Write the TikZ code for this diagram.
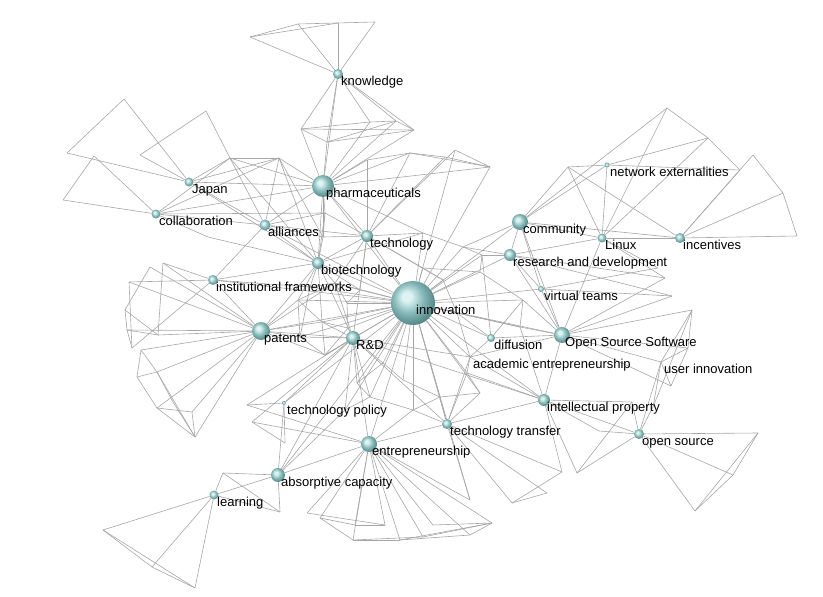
\documentclass[tikz,border=0pt]{standalone}
\usepackage{fontspec}
\setmainfont{Liberation Sans}
\usetikzlibrary{backgrounds}
\definecolor{sphhi}{RGB}{222,244,244}
\definecolor{sphmid}{RGB}{134,184,184}
\definecolor{sphdk}{RGB}{78,128,130}
\definecolor{edgecol}{RGB}{166,166,166}
\pgfdeclareradialshading{myball}{\pgfpoint{-8bp}{8bp}}{color(0bp)=(sphhi); color(5bp)=(sphhi); color(17bp)=(sphmid); color(30bp)=(sphdk); color(50bp)=(sphdk)}
\tikzset{
  sph/.style={circle, inner sep=0pt, shading=myball, draw=none},
  lab/.style={anchor=base west, inner sep=0pt, text=black, font=\fontsize{13}{15}\selectfont},
  edge/.style={draw=edgecol, line width=0.6pt}
}
\newcommand\hub[5]{%
  \node[sph, minimum size=#4pt] (#1) at (#2,#3) {};
  \node[lab] (#1-l) at (#2+3,#3+11) {#5};}
\newcommand\phub[4]{%
  \coordinate (#1) at (#2,#3);
  \node[lab] (#1-l) at (#2+3,#3+11) {#4};}
\begin{document}
\begin{tikzpicture}[x=1pt,y=-1pt]
\useasboundingbox (0,0) rectangle (823,597);
% hubs
\hub{inno}{413}{303}{44}{innovation}
\hub{pharm}{323}{186}{22}{pharmaceuticals}
\hub{know}{338}{74}{10}{knowledge}
\hub{japan}{189}{182}{9}{Japan}
\hub{collab}{156}{214}{9}{collaboration}
\hub{alli}{265}{225}{11}{alliances}
\hub{tech}{367}{236}{12}{technology}
\hub{biot}{318}{263}{12}{biotechnology}
\hub{inst}{213}{280}{10}{institutional frameworks}
\hub{pat}{261}{331}{18}{patents}
\hub{rd}{353}{338}{14}{R\&D}
\hub{tpol}{284}{403}{4}{technology policy}
\hub{entr}{369}{444}{16}{entrepreneurship}
\hub{absc}{278}{475}{14}{absorptive capacity}
\hub{learn}{214}{495}{9}{learning}
\hub{comm}{520}{222}{16}{community}
\hub{linux}{602}{238}{9}{Linux}
\hub{netx}{607}{165}{5}{network externalities}
\hub{incen}{680}{238}{10}{incentives}
\hub{rnd}{510}{255}{12}{research and development}
\hub{virt}{541}{289}{6}{virtual teams}
\hub{diff}{491}{338}{8}{diffusion}
\hub{oss}{562}{335}{16}{Open Source Software}
\phub{acad}{470}{357}{academic entrepreneurship}
\phub{useri}{661}{362}{user innovation}
\hub{ip}{544}{400}{12}{intellectual property}
\hub{ttr}{447}{424}{10}{technology transfer}
\hub{osrc}{639}{434}{10}{open source}
% corner points
\foreach \n/\x/\y in {k1/250/37,k2/298/24,k3/338/23,k4/375/22,k5/301/129,k6/327/142,k7/370/122,k8/396/121,k9/414/130,
 j1/124/99,j2/67/153,j3/206/111,j4/140/155,j5/94/156,j6/63/200,h1/230/158,h2/279/158,h3/208/237,
 t1/367/160,t2/410/153,t3/455/150,t4/490/167,t5/445/157,t6/325/213,t7/323/237,
 i1/129/282,i2/150/267,i3/163/263,i4/125/310,i5/127/330,i6/132/348,i7/158/335,
 p1/141/350,p2/137/377,p3/157/372,p4/157/408,p5/192/412,p6/195/437,p7/173/402,
 m1/298/300,m2/300/337,m3/325/355,m4/335/283,m5/347/303,m6/322/322,m7/310/287,m8/360/290,m9/348/328,
 r1/423/233,r2/423/268,r3/463/247,r4/482/255,r5/443/280,r6/457/313,r7/520/327,r8/523/300,r9/480/272,
 s1/357/383,s2/370/397,s3/413/410,s4/403/380,s5/440/397,s6/467/373,s7/480/393,s8/383/363,s9/345/410,
 q1/247/405,q2/252/422,q3/285/443,
 a1/223/473,a2/280/512,a3/103/530,a4/152/567,a5/195/588,
 e1/307/513,e2/320/518,e3/353/540,e4/355/525,e5/385/525,e6/400/540,e7/423/537,e8/470/535,e9/492/523,e10/470/500,e11/433/525,
 f1/512/503,f2/562/472,f3/547/493,
 g1/577/473,g2/632/402,g3/599/431,
 o1/758/433,o2/733/475,o3/695/511,
 u1/692/310,u2/688/348,u3/671/386,u4/653/407,
 v1/672/296,v2/665/278,v3/658/268,
 n1/568/167,n2/667/108,n3/708/138,n4/740/170,n5/753/155,n6/783/193,n7/797/236}
 {\coordinate (\n) at (\x,\y);}
\begin{scope}[on background layer]
\foreach \a/\b in {know/k1,know/k2,know/k3,know/k4,k1/k2,k2/k4,k1/k3,know/k5,know/k6,know/k7,know/k8,know/k9,
 k5/k7,k5/k9,k6/k8,k6/k9,k7/k8,k5/k6,pharm/k5,pharm/k6,pharm/k7,pharm/k8,pharm/k9,pharm/know,k8/k9,
 japan/j1,japan/j2,j1/j2,japan/j4,j4/j3,j3/h1,collab/j5,collab/j6,j5/j6,collab/h1,collab/h2,japan/h1,japan/h2,
 collab/pharm,japan/pharm,collab/alli,japan/alli,h1/alli,h2/alli,h1/pharm,h2/pharm,collab/h3,h3/biot,h1/h2,
 h1/biot,h2/biot,collab/t6,japan/biot,h2/t7,
 alli/pharm,alli/biot,alli/tech,alli/t6,alli/inno,alli/inst,alli/t7,
 pharm/tech,pharm/biot,pharm/inno,pharm/t1,pharm/t2,pharm/t4,pharm/t6,pharm/t7,pharm/r1,
 tech/t1,tech/t2,tech/t3,tech/t5,t1/t2,t2/t5,t3/t4,t5/t4,t2/t4,tech/biot,tech/inno,tech/r1,tech/r2,tech/m4,
 tech/t6,tech/t7,tech/rd,t6/t7,tech/m8,tech/r5,
 biot/inno,biot/t6,biot/t7,biot/m4,biot/m7,biot/m1,biot/rd,biot/pat,biot/inst,biot/r1,biot/m8,biot/m6,
 inst/i1,inst/i3,inst/i6,inst/pat,inst/inno,inst/m7,
 pat/i1,pat/i2,pat/i3,pat/i5,pat/i7,pat/p1,pat/p3,pat/p5,pat/p6,pat/p4,pat/inno,pat/rd,pat/m1,pat/m2,pat/m4,pat/m3,pat/m6,
 i2/i4,i3/i7,i1/i6,i4/i7,i5/i7,i4/i5,i5/i6,p1/p2,p2/p4,p2/p3,p3/p6,p4/p5,p4/p6,p5/p6,p3/p7,p7/p6,p1/p3,
 m1/m2,m1/m4,m2/m3,m3/m9,m4/m5,m5/m9,m6/m1,m6/m3,m7/m4,m7/m2,m8/m5,m4/m8,m6/m9,
 inno/m1,inno/m2,inno/m3,inno/m4,inno/m5,inno/m6,inno/m7,inno/m8,inno/m9,rd/m3,rd/m2,rd/m6,rd/m9,rd/m4,
 inno/r1,inno/r2,inno/r3,inno/r4,inno/r5,inno/r6,inno/r7,inno/r8,inno/r9,r1/r3,r2/r5,r3/r4,r4/r9,r5/r6,r6/r7,
 r8/r7,r9/r8,r2/r9,inno/comm,inno/rnd,inno/virt,inno/diff,inno/oss,inno/acad,inno/ip,inno/ttr,inno/t4,inno/t3,
 inno/s1,inno/s2,inno/s3,inno/s4,inno/s5,inno/s6,inno/s7,inno/s8,inno/s9,s1/s2,s2/s3,s4/s5,s3/s5,s5/s7,s6/s7,
 s8/s4,s1/s8,s9/s2,inno/entr,inno/absc,inno/tpol,inno/rd,inno/e10,
 rd/tpol,rd/absc,rd/entr,rd/ttr,rd/ip,rd/q1,rd/q2,rd/s1,rd/s9,rd/acad,rd/s2,rd/s8,
 tpol/q1,tpol/q3,tpol/absc,q2/q3,q2/entr,q1/entr,
 absc/learn,absc/a1,absc/a2,absc/entr,absc/s9,learn/a1,learn/a2,a1/a2,learn/a3,learn/a4,learn/a5,a3/a4,a3/a5,a4/a5,
 entr/e1,entr/e2,entr/e3,entr/e4,entr/e5,entr/e6,entr/e7,entr/e8,entr/e9,entr/e10,entr/e11,
 e1/e5,e2/e3,e2/e4,e4/e5,e3/e7,e6/e9,e7/e9,e11/e9,e8/e9,e6/e8,e3/e6,entr/ttr,entr/s3,
 ttr/ip,ttr/e10,ttr/f1,ttr/f2,ttr/f3,f1/f2,f1/f3,ttr/acad,ttr/s3,ttr/s5,ttr/s7,ttr/s6,
 ip/acad,ip/oss,ip/osrc,ip/g1,ip/g2,ip/g3,g1/g2,g1/osrc,g3/osrc,ip/f2,ip/s6,ip/r7,
 osrc/o1,osrc/o2,osrc/o3,o1/o2,o2/o3,o1/o3,osrc/g2,osrc/u4,osrc/useri,
 useri/u1,useri/u2,useri/u3,useri/u4,u1/u4,u2/u3,u1/u2,oss/u1,oss/u2,oss/useri,oss/u3,
 oss/virt,oss/rnd,oss/comm,oss/v1,oss/v2,oss/diff,oss/acad,oss/r7,oss/r8,
 virt/rnd,virt/v3,virt/comm,virt/v1,
 rnd/comm,rnd/linux,rnd/v1,rnd/v2,rnd/r3,rnd/r4,
 comm/linux,comm/netx,comm/n1,comm/n2,comm/incen,comm/r3,
 linux/n1,linux/netx,linux/n2,linux/incen,linux/n3,linux/v2,linux/v3,linux/oss,
 netx/n1,netx/n3,netx/n4,n1/incen,incen/n5,incen/n7,incen/n6,incen/n4,n5/n6,n6/n7,n2/n3,n3/n4,
 diff/r8,diff/r4,diff/r6,diff/acad,acad/r6,acad/s6}
 {\draw[edge] (\a) -- (\b);}
\end{scope}
\end{tikzpicture}
\end{document}
